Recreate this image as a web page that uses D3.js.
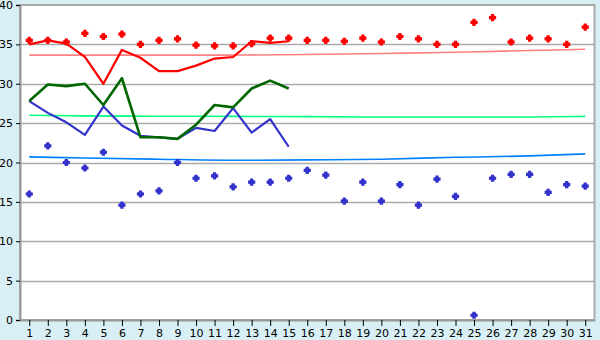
<!DOCTYPE html>
<html>
<head>
<meta charset="utf-8">
<script src="https://cdn.jsdelivr.net/npm/d3@7"></script>
<style>
  body { margin: 0; background: #d9eff6; }
  svg { display: block; }
  .tick text { font-family: "DejaVu Sans", sans-serif; font-size: 11px; fill: #000; }
</style>
</head>
<body>
<div id="chart"></div>
<script>
let width = 600, height = 340;

const days = d3.range(1, 32); // 1..31

// scattered daily points
const redDots = [35.5, 35.5, 35.3, 36.4, 36.0, 36.3, 35.0, 35.5, 35.7, 34.9,
                 34.8, 34.8, 35.1, 35.8, 35.8, 35.5, 35.5, 35.4, 35.8, 35.3,
                 36.0, 35.7, 35.0, 35.0, 37.8, 38.4, 35.3, 35.8, 35.7, 35.0, 37.2];
const blueDots = [16.0, 22.1, 20.0, 19.3, 21.3, 14.6, 16.0, 16.4, 20.0, 18.0,
                  18.3, 16.9, 17.5, 17.5, 18.0, 19.0, 18.4, 15.1, 17.5, 15.1,
                  17.2, 14.6, 17.9, 15.7, 0.6, 18.0, 18.5, 18.5, 16.2, 17.2, 17.0];

// lines for first 15 days
const redLine = [35.0, 35.5, 35.1, 33.4, 30.0, 34.3, 33.3, 31.6, 31.6, 32.3,
                 33.2, 33.4, 35.4, 35.2, 35.4];
const greenLine = [27.8, 29.9, 29.7, 30.0, 27.3, 30.7, 23.2, 23.2, 23.0, 24.8,
                   27.3, 27.0, 29.4, 30.4, 29.4];
const blueLine = [27.8, 26.3, 25.1, 23.5, 27.1, 24.7, 23.4, 23.2, 23.0, 24.4,
                  24.0, 26.9, 23.8, 25.5, 22.0];

// trend lines, read at a few days
const trendDays = [1, 4, 8, 12, 16, 20, 24, 28, 31];
const redTrend = [33.63, 33.63, 33.63, 33.64, 33.72, 33.85, 34.0, 34.22, 34.38];
const greenTrend = [26.0, 25.92, 25.88, 25.86, 25.82, 25.77, 25.77, 25.78, 25.86];
const blueTrend = [20.71, 20.58, 20.42, 20.29, 20.33, 20.42, 20.67, 20.84, 21.09];

const yTicks = [0, 5, 10, 15, 20, 25, 30, 35, 40];

let plotLeft = 20, plotRight = 594.5, plotTop = 5, plotBottom = 320;

let svg = d3.select('#chart')
  .append('svg')
  .attr('width', width)
  .attr('height', height);

let x = d3.scalePoint()
  .domain(days)
  .range([plotLeft, plotRight])
  .padding(0.5);

let y = d3.scaleLinear()
  .domain([0, 40])
  .range([plotBottom, plotTop]);

// plot background
svg.append('rect')
  .attr('x', plotLeft).attr('y', plotTop)
  .attr('width', plotRight - plotLeft).attr('height', plotBottom - plotTop)
  .attr('fill', '#fff')
  .attr('stroke', '#aaa')
  .attr('stroke-width', 2);

// grid
svg.append('g')
  .selectAll('line')
  .data(yTicks.filter(d => d > 0 && d < 40))
  .enter()
  .append('line')
  .attr('x1', plotLeft).attr('x2', plotRight)
  .attr('y1', d => Math.round(y(d)) + 0.5)
  .attr('y2', d => Math.round(y(d)) + 0.5)
  .attr('stroke', '#aaa')
  .attr('stroke-width', 1.5);

// axes
let yAxis = svg.append('g')
  .attr('transform', 'translate(' + plotLeft + ',0)')
  .call(d3.axisLeft(y).tickValues(yTicks).tickSize(4).tickPadding(3));
yAxis.select('.domain').attr('stroke', '#999').attr('stroke-width', 2);
yAxis.selectAll('.tick line').attr('stroke', '#000');

let xAxis = svg.append('g')
  .attr('transform', 'translate(0,' + plotBottom + ')')
  .call(d3.axisBottom(x).tickSize(6).tickPadding(3).tickSizeOuter(0));
xAxis.select('.domain').attr('stroke', '#999').attr('stroke-width', 2);
xAxis.selectAll('.tick line').attr('stroke', '#000');

// trend lines
let trendLine = d3.line()
  .x((d, i) => x(trendDays[i]))
  .y(d => y(d))
  .curve(d3.curveMonotoneX);

[[redTrend, '#ff8080'], [greenTrend, '#00ff80'], [blueTrend, '#0080ff']].forEach(function(t){
  svg.append('path')
    .attr('d', trendLine(t[0]))
    .attr('fill', 'none')
    .attr('stroke', t[1])
    .attr('stroke-width', 1.6);
});

// daily lines
let dayLine = d3.line()
  .x((d, i) => x(days[i]))
  .y(d => y(d));

[[redLine, '#ff0000', 2.2], [blueLine, '#3333cc', 2.2], [greenLine, '#006600', 2.6]].forEach(function(l){
  svg.append('path')
    .attr('d', dayLine(l[0]))
    .attr('fill', 'none')
    .attr('stroke', l[1])
    .attr('stroke-width', l[2])
    .attr('stroke-linejoin', 'round');
});

// chunky plus marker (cross with filled inner corners)
let chunkyPlus = {
  draw: function(ctx, size){
    let a = 1.6, b = 3.6, c = 2.4;
    ctx.moveTo(-a, -b); ctx.lineTo(a, -b); ctx.lineTo(a, -c); ctx.lineTo(c, -a);
    ctx.lineTo(b, -a); ctx.lineTo(b, a); ctx.lineTo(c, a); ctx.lineTo(a, c);
    ctx.lineTo(a, b); ctx.lineTo(-a, b); ctx.lineTo(-a, c); ctx.lineTo(-c, a);
    ctx.lineTo(-b, a); ctx.lineTo(-b, -a); ctx.lineTo(-c, -a); ctx.lineTo(-a, -c);
    ctx.closePath();
  }
};
let marker = d3.symbol().type(chunkyPlus);

[[redDots, '#ff0000'], [blueDots, '#3333cc']].forEach(function(s){
  svg.append('g')
    .selectAll('path')
    .data(s[0])
    .enter()
    .append('path')
    .attr('d', marker)
    .attr('transform', (d, i) => 'translate(' + x(days[i]) + ',' + y(d) + ')')
    .attr('fill', s[1]);
});
</script>
</body>
</html>
